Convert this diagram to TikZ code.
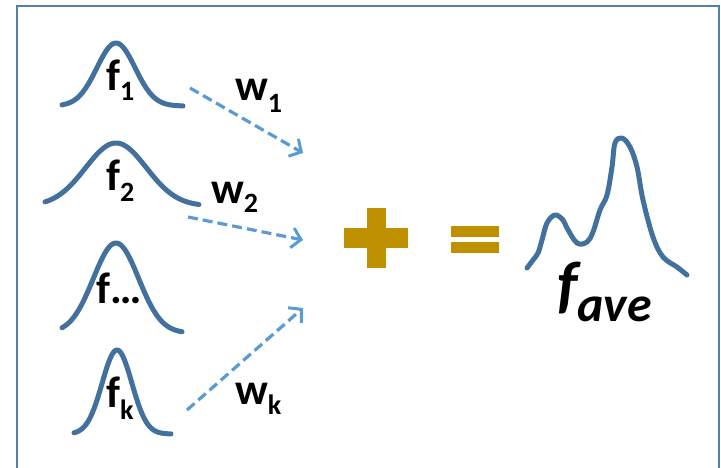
\documentclass[tikz,border=0pt]{standalone}
\usepackage{fontspec}
\setmainfont{Carlito}
\usetikzlibrary{arrows.meta}
\definecolor{curveblue}{HTML}{41719C}
\definecolor{arrowblue}{HTML}{5B9BD5}
\definecolor{plusgold}{HTML}{BF9000}
\newcommand{\subl}[3]{{\fontsize{44}{44}\selectfont #1\raisebox{#3}{\fontsize{28}{28}\selectfont #2}}}
\begin{document}
\begin{tikzpicture}[x=1pt,y=-1pt,
  frame/.style={curveblue!90, line width=2pt},
  bell/.style={curveblue, line width=5pt, line cap=round, line join=round},
  weight/.style={arrowblue, line width=3.2pt, dash pattern=on 10pt off 5pt,
    -{Straight Barb[length=9pt,width=20pt,line width=3pt]}},
  lab/.style={inner sep=0pt, anchor=base west, font=\bfseries},
  sign/.style={fill=plusgold, draw=none}]
\useasboundingbox (0,0) rectangle (721,467);
\draw[frame] (17,6) rectangle (719,480);
% bell curves
\draw[bell] plot[domain=-54:67,samples=80,smooth] ({116+\x},{106-63*exp(-(\x/27)^2)});
\draw[bell] plot[domain=-71:83,samples=80,smooth] ({116+\x},{206-63*exp(-(\x/43)^2)});
\draw[bell] plot[domain=-54:66,samples=80,smooth] ({116+\x},{333-90*exp(-(\x/32)^2)});
\draw[bell] plot[domain=-43:54,samples=80,smooth] ({117+\x},{434-84*exp(-(\x/21)^2)});
% labels
\node[lab] (f1) at (106,90) {\subl{f}{1}{-10pt}};
\node[lab] (f2) at (106,190) {\subl{f}{2}{-11pt}};
\node[lab] (fd) at (96,303) {{\fontsize{44}{44}\selectfont f…}};
\node[lab] (fk) at (106,407) {\subl{f}{k}{-12pt}};
\node[lab] (w1) at (235,100) {\subl{w}{1}{-12pt}};
\node[lab] (w2) at (211,203) {\subl{w}{2}{-9pt}};
\node[lab] (wk) at (235,404) {\subl{w}{k}{-10pt}};
% arrows
\coordinate (s1) at (190,88);  \coordinate (t1) at (303,153);
\coordinate (s2) at (188,217); \coordinate (t2) at (303,240);
\coordinate (sk) at (187,410); \coordinate (tk) at (303,308);
\draw[weight] (s1) -- (t1);
\draw[weight] (s2) -- (t2);
\draw[weight] (sk) -- (tk);
% plus and equals
\fill[sign] (344,228) rectangle (408,248);
\fill[sign] (367,208) rectangle (386,268);
\fill[sign] (451,226) rectangle (499,237);
\fill[sign] (451,242) rectangle (499,253);
% average curve
\draw[bell] plot[smooth, tension=0.6] coordinates {(527,268) (533,260) (538,253) (542,240) (547,223) (555,215) (563,220) (567,228) (577,243) (587,242) (593,232) (600,210) (607,195) (612,167) (615,143) (622,138) (630,147) (637,167) (643,200) (653,237) (663,257) (677,267) (687,275)};
\node[lab] (fave) at (557,306) {\bfseries\itshape\fontsize{64}{64}\selectfont f\raisebox{-15pt}{\fontsize{50}{50}\selectfont ave}};
\end{tikzpicture}
\end{document}
